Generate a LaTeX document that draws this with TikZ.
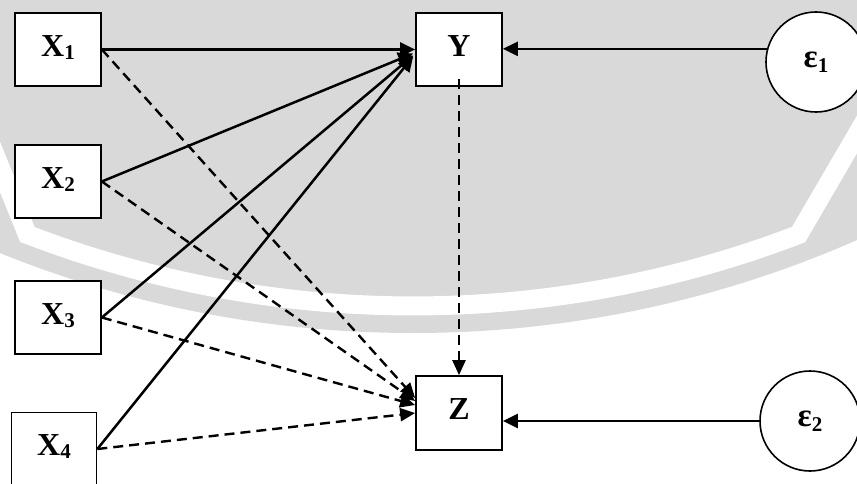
\documentclass[tikz,border=0pt]{standalone}
\usepackage{fontspec}
\setmainfont{Liberation Serif}
\usetikzlibrary{arrows.meta,calc}

\definecolor{bggrey}{RGB}{217,217,217}

% index set a little below the baseline
\newcommand\lowsub[2][3pt]{\raisebox{-#1}{\fontsize{21}{21}\selectfont #2}}

\begin{document}
\begin{tikzpicture}[x=1pt,y=-1pt,
  varbox/.style={draw, line width=1.7pt, fill=white, minimum width=86pt,
    minimum height=73pt, inner sep=0pt,
    font=\bfseries\fontsize{32}{32}\selectfont},
  errcirc/.style={draw, circle, line width=1.6pt, fill=white,
    minimum size=100pt, inner sep=0pt,
    font=\bfseries\fontsize{33}{33}\selectfont},
  path/.style={line width=2.5pt, -{Triangle[length=15pt,width=14pt]}},
  dpath/.style={line width=2.4pt, dash pattern=on 10pt off 6pt,
    -{Triangle[length=15pt,width=13pt]}},
  band/.style={white, line width=19pt, line join=miter}
]
\useasboundingbox (0,0) rectangle (857,484);

% grey backdrop with a white shield outline
\begin{scope}
  \clip (0,0) rectangle (857,484);
  \fill[bggrey] (413,-770) circle[radius=1103];
  \draw[band] (-15,130) -- (27.4,234.5)
    arc[start angle=111, end angle=69, radius=1076] -- (880,95);
\end{scope}

% variables
\node[varbox] (X1) at (58,49.5)  {\raisebox{7pt}{X\lowsub{1}}};
\node[varbox] (X2) at (58,181.5) {\raisebox{7pt}{X\lowsub{2}}};
\node[varbox] (X3) at (58,317.5) {\raisebox{7pt}{X\lowsub{3}}};
\node[varbox, minimum width=85pt] (X4) at (54,449) {\raisebox{7pt}{X\lowsub{4}}};
\node[varbox] (Y) at (459,49.5) {\raisebox{7pt}{Y}};
\node[varbox, minimum height=74pt] (Z) at (459,413) {\raisebox{7pt}{Z}};

% error terms
\node[errcirc] (e1) at (816,62)  {ε\lowsub[5pt]{1}};
\node[errcirc] (e2) at (810,421) {ε\lowsub[5pt]{2}};

% direct effects on Y
\draw[path] (X1.east) -- (Y.west);
\draw[path] (X2.east) -- ($(Y.west)+(-2,4)$);
\draw[path] (X3.east) -- ($(Y.west)+(-2,6)$);
\draw[path] (X4.east) -- ($(Y.west)+(-2,7)$);
\draw[path] (e1.165) -- (e1.165 -| Y.east);

% effects on Z
\draw[dpath] (X1.east) -- ($(Z.west)+(0,-15)$);
\draw[dpath] (X2.east) -- ($(Z.west)+(0,-12)$);
\draw[dpath] (X3.east) -- ($(Z.west)+(0,-8)$);
\draw[dpath] (X4.east) -- (Z.west);
\draw[dpath] ($(Y.south)+(0,-8)$) -- (Z.north);
\draw[path] (e2.west) -- (e2.west -| Z.east);
\end{tikzpicture}
\end{document}
